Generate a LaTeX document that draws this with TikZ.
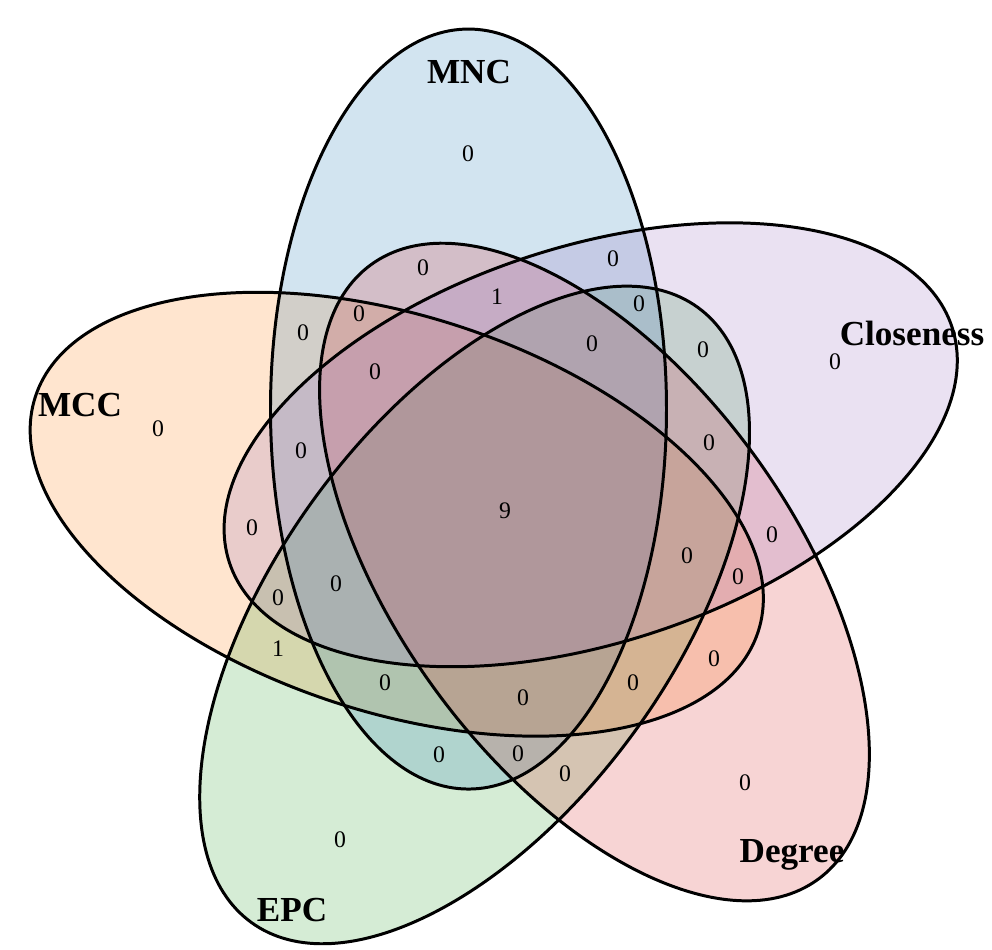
\documentclass[tikz,border=0pt]{standalone}
\usepackage{fontspec}
\setmainfont{Liberation Serif}
\definecolor{mnccol}{RGB}{31,119,180}
\definecolor{clocol}{RGB}{148,103,189}
\definecolor{degcol}{RGB}{214,39,40}
\definecolor{epccol}{RGB}{44,160,44}
\definecolor{mcccol}{RGB}{255,127,14}
\begin{document}
\begin{tikzpicture}[x=0.2mm, y=0.2mm, setfill/.style = {fill=#1, fill opacity=0.2}, setline/.style = {draw=black, line width=1.7pt}, num/.style = {font=\fontsize{13.5}{16}\selectfont}, lab/.style = {font=\fontsize{20}{24}\selectfont\bfseries, anchor=base}]
    \useasboundingbox (-505,-438) rectangle (487,511);

    \fill[setfill=mcccol, rotate=72] (109.7:108.3) ellipse [x radius=198, y radius=380];
    \fill[setfill=epccol, rotate=144] (109.7:108.3) ellipse [x radius=198, y radius=380];
    \fill[setfill=mnccol] (109.7:108.3) ellipse [x radius=198, y radius=380];
    \fill[setfill=degcol, rotate=-144] (109.7:108.3) ellipse [x radius=198, y radius=380];
    \fill[setfill=clocol, rotate=-72] (109.7:108.3) ellipse [x radius=198, y radius=380];

    \draw[setline, rotate=72] (109.7:108.3) ellipse [x radius=198, y radius=380];
    \draw[setline, rotate=144] (109.7:108.3) ellipse [x radius=198, y radius=380];
    \draw[setline] (109.7:108.3) ellipse [x radius=198, y radius=380];
    \draw[setline, rotate=-144] (109.7:108.3) ellipse [x radius=198, y radius=380];
    \draw[setline, rotate=-72] (109.7:108.3) ellipse [x radius=198, y radius=380];

    \node[lab] (labMNC) at (-36,428) {MNC};
    \node[lab] (labClo) at (407,166) {Closeness};
    \node[lab] (labMCC) at (-425,95) {MCC};
    \node[lab] (labEPC) at (-213,-410) {EPC};
    \node[lab] (labDeg) at (287,-351) {Degree};

    \node[num] (cnt1) at (-37,357) {0};
    \node[num] (cnt2) at (330,149) {0};
    \node[num] (cnt3) at (-347,82) {0};
    \node[num] (cnt4) at (-165,-329) {0};
    \node[num] (cnt5) at (240,-272) {0};
    \node[num] (cnt6) at (0,0) {9};
    \node[num] (cnt7) at (-82,243) {0};
    \node[num] (cnt8) at (108,252) {0};
    \node[num] (cnt9) at (-8,214) {1};
    \node[num] (cnt10) at (-146,197) {0};
    \node[num] (cnt11) at (-202,178) {0};
    \node[num] (cnt12) at (134,207) {0};
    \node[num] (cnt13) at (87,167) {0};
    \node[num] (cnt14) at (198,161) {0};
    \node[num] (cnt15) at (-130,139) {0};
    \node[num] (cnt16) at (204,68) {0};
    \node[num] (cnt17) at (-204,60) {0};
    \node[num] (cnt18) at (-253,-17) {0};
    \node[num] (cnt19) at (267,-24) {0};
    \node[num] (cnt20) at (182,-45) {0};
    \node[num] (cnt21) at (233,-66) {0};
    \node[num] (cnt22) at (-169,-73) {0};
    \node[num] (cnt23) at (-227,-87) {0};
    \node[num] (cnt24) at (-227,-138) {1};
    \node[num] (cnt25) at (209,-148) {0};
    \node[num] (cnt26) at (-120,-172) {0};
    \node[num] (cnt27) at (128,-172) {0};
    \node[num] (cnt28) at (18,-187) {0};
    \node[num] (cnt29) at (-66,-244) {0};
    \node[num] (cnt30) at (13,-243) {0};
    \node[num] (cnt31) at (60,-263) {0};
\end{tikzpicture}
\end{document}
